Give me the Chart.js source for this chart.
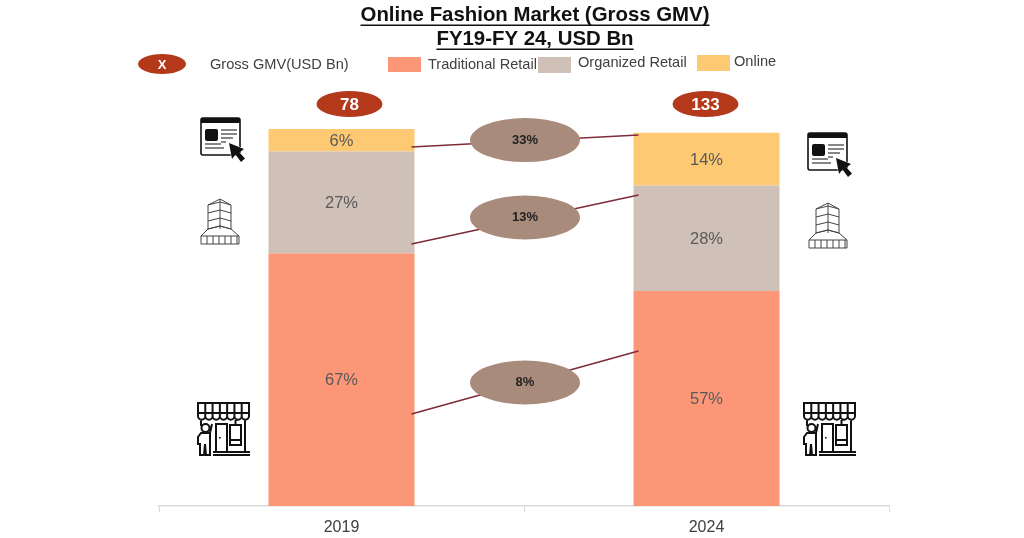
<!DOCTYPE html>
<html>
<head>
<meta charset="utf-8">
<title>Online Fashion Market</title>
<script src="https://cdn.jsdelivr.net/npm/chart.js@4/dist/chart.umd.min.js"></script>
<style>
  html, body { margin: 0; padding: 0; background: #fff; }
  #wrap { width: 1024px; height: 538px; }
</style>
</head>
<body>
<div id="wrap"><canvas id="chart" width="1024" height="538"></canvas></div>
<script>
// data
const years = ["2019", "2024"];
const traditional = [67, 57];
const organized = [27, 28];
const online = [6, 14];
const grossGmv = ["78", "133"];
const cagrLabels = ["33%", "13%", "8%"];
// where each connector leaves the 2019 bar and reaches the 2024 bar, on the y scale
const connectorFrom = [95.2, 69.5, 24.4];
const connectorTo = [98.4, 82.5, 41.1];

const FONT = '"Liberation Sans", Arial, sans-serif';
const C_TRAD = "#fb9677", C_ORG = "#d0c1b8", C_ONLINE = "#fdc973";
const C_RED = "#b3391a", C_BROWN = "#a98b7c", C_LINE = "#7d2b38";

function oval(ctx, x, y, rx, ry, color) {
  ctx.fillStyle = color;
  ctx.beginPath();
  ctx.ellipse(x, y, rx, ry, 0, 0, Math.PI * 2);
  ctx.fill();
}

function label(ctx, text, x, y, font, color, align) {
  ctx.font = font;
  ctx.fillStyle = color;
  ctx.textAlign = align || "center";
  ctx.textBaseline = "middle";
  ctx.fillText(text, x, y);
}

function titleLine(ctx, text, y) {
  label(ctx, text, 535, y, "bold 20.4px " + FONT, "#111");
  const w = ctx.measureText(text).width;
  ctx.fillStyle = "#111";
  ctx.fillRect(535 - w / 2, y + 9.5, w, 1.5);
}

// ---- icons, drawn in a 46x46 box ----
function browserIcon(ctx, x, y) {
  ctx.save();
  ctx.translate(x, y);
  ctx.strokeStyle = "#111";
  ctx.fillStyle = "#111";
  ctx.lineWidth = 1.6;
  ctx.beginPath();
  ctx.roundRect(1, 1, 39, 37, 2);
  ctx.stroke();
  ctx.fillRect(1, 1, 39, 5);
  ctx.beginPath();
  ctx.roundRect(5, 12, 13, 12, 2);
  ctx.fill();
  ctx.lineWidth = 1.2;
  ctx.beginPath();
  [[21, 37, 13], [21, 37, 17], [21, 33, 21], [5, 21, 27], [5, 24, 31], [21, 26, 25]].forEach(function(l) {
    ctx.moveTo(l[0], l[2]);
    ctx.lineTo(l[1], l[2]);
  });
  ctx.stroke();
  // cursor
  ctx.beginPath();
  ctx.moveTo(29, 26);
  ctx.lineTo(32, 42);
  ctx.lineTo(35.5, 37.5);
  ctx.lineTo(41, 45);
  ctx.lineTo(45, 41.5);
  ctx.lineTo(39.5, 35.5);
  ctx.lineTo(44, 32);
  ctx.closePath();
  ctx.strokeStyle = "#fff";
  ctx.lineWidth = 1;
  ctx.stroke();
  ctx.fill();
  ctx.restore();
}

function buildingIcon(ctx, x, y) {
  ctx.save();
  ctx.translate(x, y);
  ctx.strokeStyle = "#444";
  ctx.lineWidth = 1;
  ctx.beginPath();
  // tower
  ctx.moveTo(8, 31); ctx.lineTo(8, 7); ctx.lineTo(20, 1); ctx.lineTo(31, 7); ctx.lineTo(31, 31);
  ctx.moveTo(20, 1); ctx.lineTo(20, 31);
  [7, 15, 23, 31].forEach(function(h) {
    ctx.moveTo(8, h); ctx.lineTo(20, h - 3); ctx.lineTo(31, h);
  });
  // base
  ctx.moveTo(1, 38); ctx.lineTo(8, 31); ctx.lineTo(20, 28); ctx.lineTo(31, 31); ctx.lineTo(39, 38);
  ctx.moveTo(1, 38); ctx.lineTo(39, 38);
  ctx.moveTo(1, 46); ctx.lineTo(39, 46);
  ctx.moveTo(1, 38); ctx.lineTo(1, 46);
  ctx.moveTo(39, 38); ctx.lineTo(39, 46);
  for (let i = 7; i < 39; i += 6) {
    ctx.moveTo(i, 38); ctx.lineTo(i, 46);
  }
  ctx.stroke();
  ctx.restore();
}

function storeIcon(ctx, x, y) {
  ctx.save();
  ctx.translate(x, y);
  ctx.strokeStyle = "#111";
  ctx.lineWidth = 2;
  ctx.beginPath();
  // awning
  ctx.rect(1, 1, 51, 10);
  for (let i = 0; i < 7; i++) {
    const a = 1 + i * 51 / 7, w = 51 / 7;
    ctx.moveTo(a, 1); ctx.lineTo(a, 14);
    ctx.arc(a + w / 2, 14, w / 2, Math.PI, 0, true);
  }
  ctx.moveTo(52, 1); ctx.lineTo(52, 14);
  // walls and floor
  ctx.moveTo(4, 18); ctx.lineTo(4, 24);
  ctx.moveTo(48, 18); ctx.lineTo(48, 49);
  ctx.moveTo(16, 50); ctx.lineTo(53, 50);
  ctx.moveTo(16, 53); ctx.lineTo(53, 53);
  // door
  ctx.moveTo(19, 50); ctx.lineTo(19, 22); ctx.lineTo(30, 22); ctx.lineTo(30, 50);
  // window
  ctx.rect(33, 23, 11, 20);
  ctx.moveTo(33, 38); ctx.lineTo(44, 38);
  ctx.moveTo(38.5, 18); ctx.lineTo(38.5, 23);
  // person
  ctx.moveTo(12.5, 26);
  ctx.arc(8.5, 26, 4, 0, Math.PI * 2);
  ctx.moveTo(13, 31); ctx.lineTo(15, 22);
  ctx.moveTo(13, 31); ctx.lineTo(13, 53); ctx.lineTo(9, 53); ctx.lineTo(8, 42);
  ctx.lineTo(7, 53); ctx.lineTo(3, 53); ctx.lineTo(3, 42); ctx.lineTo(1, 42); ctx.lineTo(1, 35);
  ctx.lineTo(4, 31); ctx.lineTo(13, 31);
  ctx.stroke();
  ctx.fillStyle = "#111";
  ctx.fillRect(22, 35, 1.6, 1.6);
  ctx.restore();
}

// title, legend, icons
const decorPlugin = {
  id: "decor",
  afterDraw: function(chart) {
    const ctx = chart.ctx;
    ctx.save();
    titleLine(ctx, "Online Fashion Market (Gross GMV)", 15);
    titleLine(ctx, "FY19-FY 24, USD Bn", 39);

    const lf = "14.6px " + FONT, lc = "#404040";
    oval(ctx, 162, 64, 24, 10, C_RED);
    label(ctx, "X", 162, 65, "bold 13px " + FONT, "#fff");
    label(ctx, "Gross GMV(USD Bn)", 210, 65, lf, lc, "left");
    ctx.fillStyle = C_TRAD;
    ctx.fillRect(388, 57, 33, 15);
    label(ctx, "Traditional Retail", 428, 65, lf, lc, "left");
    ctx.fillStyle = C_ORG;
    ctx.fillRect(538, 57, 33, 16);
    label(ctx, "Organized Retail", 578, 63, lf, lc, "left");
    ctx.fillStyle = C_ONLINE;
    ctx.fillRect(697, 55, 33, 16);
    label(ctx, "Online", 734, 62, lf, lc, "left");

    browserIcon(ctx, 200, 117);
    buildingIcon(ctx, 200, 198);
    storeIcon(ctx, 197, 402);
    browserIcon(ctx, 807, 132);
    buildingIcon(ctx, 808, 202);
    storeIcon(ctx, 803, 402);
    ctx.restore();
  }
};

// values inside the bars, totals above them, connectors and growth ovals between them
const notesPlugin = {
  id: "notes",
  afterDatasetsDraw: function(chart) {
    const ctx = chart.ctx;
    const y = chart.scales.y;
    ctx.save();

    chart.data.datasets.forEach(function(ds, d) {
      chart.getDatasetMeta(d).data.forEach(function(bar, i) {
        label(ctx, ds.data[i] + "%", bar.x, (bar.y + bar.base) / 2 + 1, "16.5px " + FONT, "#595959");
      });
    });

    const bars = chart.getDatasetMeta(0).data;
    const x1 = bars[0].x + bars[0].width / 2 - 3;
    const x2 = bars[1].x - bars[1].width / 2 + 5;
    const ovalShift = [-1, -2, 0];
    cagrLabels.forEach(function(t, i) {
      const y1 = y.getPixelForValue(connectorFrom[i]);
      const y2 = y.getPixelForValue(connectorTo[i]);
      ctx.strokeStyle = C_LINE;
      ctx.lineWidth = 1.5;
      ctx.beginPath();
      ctx.moveTo(x1, y1);
      ctx.lineTo(x2, y2);
      ctx.stroke();
      const mx = (x1 + x2) / 2, my = (y1 + y2) / 2 + ovalShift[i];
      oval(ctx, mx, my, 55, 22, C_BROWN);
      label(ctx, t, mx, my, "bold 13px " + FONT, "#222");
    });

    const shift = [8, -1];
    grossGmv.forEach(function(t, i) {
      oval(ctx, bars[i].x + shift[i], chart.chartArea.top - 25, 33, 13, C_RED);
      label(ctx, t, bars[i].x + shift[i], chart.chartArea.top - 24, "bold 17px " + FONT, "#fff");
    });
    ctx.restore();
  }
};

new Chart(document.getElementById("chart"), {
  type: "bar",
  data: {
    labels: years,
    datasets: [
      { label: "Traditional Retail", data: traditional, backgroundColor: C_TRAD },
      { label: "Organized Retail", data: organized, backgroundColor: C_ORG },
      { label: "Online", data: online, backgroundColor: C_ONLINE }
    ]
  },
  options: {
    responsive: false,
    animation: false,
    devicePixelRatio: 1,
    barPercentage: 0.4,
    categoryPercentage: 1,
    layout: { padding: { left: 159, right: 135, top: 129, bottom: 0 } },
    plugins: { legend: { display: false }, title: { display: false }, tooltip: { enabled: false } },
    scales: {
      x: {
        stacked: true,
        afterFit: function(scale) { scale.height = 32; },
        grid: { drawOnChartArea: false, color: "#d9d9d9", tickLength: 6 },
        border: { color: "#d9d9d9", width: 1.5 },
        ticks: { color: "#404040", padding: 6, font: { size: 16, family: FONT } }
      },
      y: { stacked: true, min: 0, max: 100, display: false }
    }
  },
  plugins: [notesPlugin, decorPlugin]
});
</script>
</body>
</html>
